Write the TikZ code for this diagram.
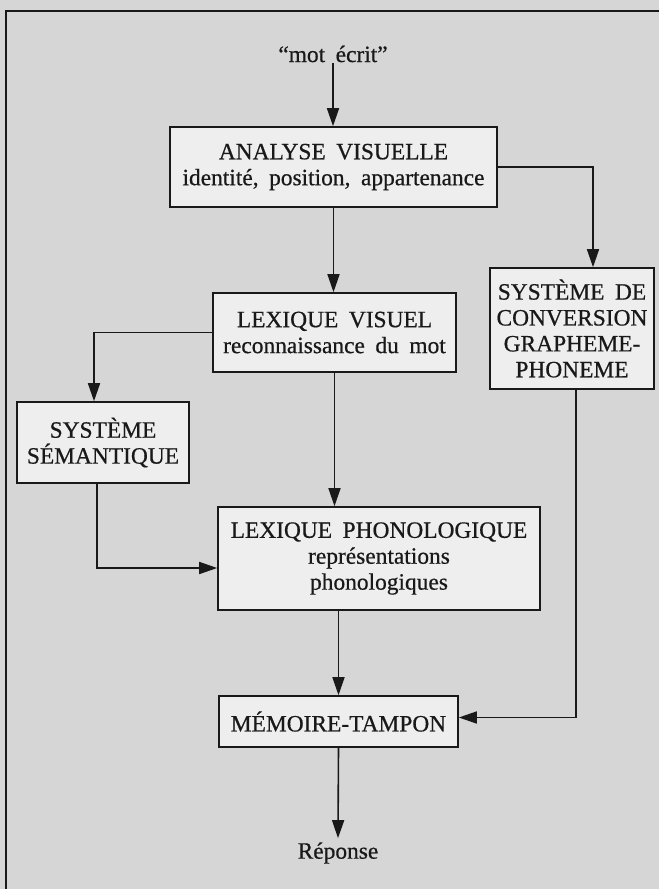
\documentclass[tikz,border=0pt]{standalone}
\usepackage{fontspec}
\setmainfont{Liberation Serif}[WordSpace=1.8, FakeBold=0.6]
\usetikzlibrary{arrows.meta}
\definecolor{bgcol}{RGB}{214,214,214}
\definecolor{boxcol}{RGB}{238,238,238}
\definecolor{inkcol}{RGB}{25,25,25}
\begin{document}
\begin{tikzpicture}[x=1bp,y=-1bp,
  box/.style={draw=inkcol, fill=boxcol, line width=1.6bp, align=center, inner sep=0pt,
              text=inkcol, font=\fontsize{23.5}{26}\selectfont},
  lbl/.style={inner sep=2bp, text=inkcol, font=\fontsize{23.5}{26}\selectfont},
  arr/.style={draw=inkcol, line width=1.6bp, -{Triangle[length=18bp,width=12bp]}}]
\useasboundingbox (0,0) rectangle (659,889);
\fill[bgcol] (0,0) rectangle (659,889);
\draw[inkcol, line width=1.6bp] (6,889) -- (6,11) -- (659,11);

\node[lbl, inner sep=1bp] (mot) at (333,54) {“mot écrit”};
\node[box, minimum width=327bp, minimum height=80bp] (av) at (333.5,167)
  {ANALYSE VISUELLE\\identité, position, appartenance};
\node[box, minimum width=243bp, minimum height=79bp] (lv) at (334.5,332.5)
  {LEXIQUE VISUEL\\reconnaissance du mot};
\node[box, minimum width=164bp, minimum height=121bp] (gp) at (572,328.5)
  {SYSTÈME DE\\CONVERSION\\GRAPHEME-\\PHONEME};
\node[box, minimum width=172bp, minimum height=81bp] (sem) at (103,442.5)
  {SYSTÈME\\SÉMANTIQUE};
\node[box, minimum width=322bp, minimum height=103bp] (lp) at (379,558.5)
  {LEXIQUE PHONOLOGIQUE\\représentations\\phonologiques};
\node[box, minimum width=239bp, minimum height=51bp] (mem) at (338.5,721.5)
  {MÉMOIRE-TAMPON};
\node[lbl, inner sep=4bp] (rep) at (338,853) {Réponse};

\draw[arr] (mot.south) -- (mot.south |- av.north);
\draw[arr] (av.south) -- (av.south |- lv.north);
\draw[arr] (av.east) -| ([xshift=21bp]gp.north);
\draw[arr] (lv.west) -| ([xshift=-9bp]sem.north);
\draw[arr] (lv.south) -- (lv.south |- lp.north);
\draw[arr] ([xshift=-6bp]sem.south) |- ([yshift=-9.5bp]lp.west);
\draw[arr] (lp.south -| mem.north) -- (mem.north);
\draw[arr] ([xshift=4bp]gp.south) |- ([yshift=4bp]mem.east);
\draw[arr] (mem.south) -- (rep.north);
\end{tikzpicture}
\end{document}
